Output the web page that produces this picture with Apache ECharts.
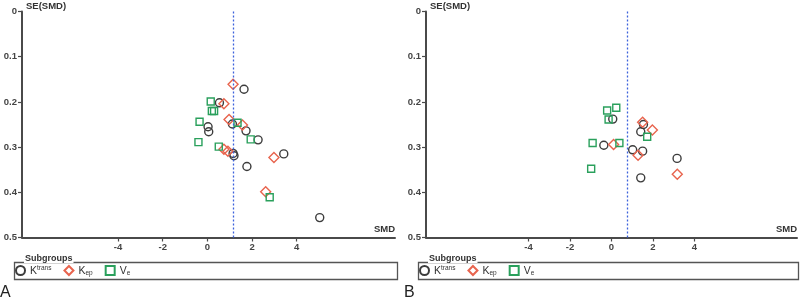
<!DOCTYPE html>
<html><head><meta charset="utf-8">
<script src="https://cdn.jsdelivr.net/npm/echarts@6/dist/echarts.min.js"></script>
<style>html,body{margin:0;padding:0;background:#fff}#c{width:800px;height:302px}</style>
</head><body><div id="c"></div>
<script>
// ---- data (SMD, SE(SMD)) ----
var aKtrans = [[1.64,0.172],[0.54,0.202],[1.12,0.249],[0.03,0.255],[0.06,0.266],[1.73,0.264],[2.27,0.284],[1.15,0.314],[1.19,0.319],[3.42,0.315],[1.77,0.343],[5.03,0.456]];
var aKep    = [[1.15,0.161],[0.74,0.204],[0.97,0.239],[1.57,0.251],[0.74,0.305],[0.92,0.309],[2.98,0.323],[2.61,0.399]];
var aVe     = [[0.15,0.199],[0.20,0.220],[0.30,0.220],[-0.35,0.244],[1.35,0.246],[1.94,0.283],[-0.40,0.289],[0.51,0.299],[2.79,0.411]];
var aPooled = 1.15;

var bKtrans = [[0.06,0.238],[1.54,0.250],[1.41,0.266],[-0.37,0.296],[1.02,0.306],[1.50,0.309],[3.16,0.325],[1.41,0.368]];
var bKep    = [[1.50,0.245],[1.97,0.262],[0.10,0.294],[1.28,0.318],[3.17,0.360]];
var bVe     = [[0.23,0.213],[-0.21,0.219],[-0.14,0.239],[-0.91,0.291],[0.38,0.291],[1.72,0.277],[-0.98,0.348]];
var bPooled = 0.78;

var xTicks = [-4,-2,0,2,4];
var seriesNames = ['Ktrans','Kep','Ve'];
var panelLabels = ['A','B'];

var FONT = "'Liberation Sans', Arial, sans-serif";
var AX = '#4a4a4a';
var colK = '#3c3c3c', colKep = '#e8644e', colVe = '#2aa05c';

function xAxis(idx, min, max){
  return {type:'value', gridIndex:idx, min:min, max:max,
    name:'SMD', nameLocation:'end', nameGap:0,
    nameTextStyle:{fontFamily:FONT, fontSize:9.5, fontWeight:'bold', color:'#333', align:'right', verticalAlign:'bottom', padding:[0,0,3,0]},
    splitLine:{show:false},
    axisLine:{onZero:false, lineStyle:{color:AX, width:2}},
    axisTick:{show:true, length:4, customValues:xTicks, lineStyle:{color:AX, width:1.2}},
    axisLabel:{customValues:xTicks, margin:5, fontFamily:FONT, fontSize:9.5, fontWeight:'bold', color:'#444'}
  };
}
function yAxis(idx){
  return {type:'value', gridIndex:idx, min:0, max:0.5, interval:0.1, inverse:true,
    name:'SE(SMD)', nameLocation:'start', nameGap:0,
    nameTextStyle:{fontFamily:FONT, fontSize:9.5, fontWeight:'bold', color:'#333', align:'left', verticalAlign:'bottom', padding:[0,0,0,4]},
    splitLine:{show:false},
    axisLine:{onZero:false, lineStyle:{color:AX, width:2}},
    axisTick:{show:true, length:4, lineStyle:{color:AX, width:1.2}},
    axisLabel:{margin:5, fontFamily:FONT, fontSize:9.5, fontWeight:'bold', color:'#444',
      formatter:function(v){return String(+v.toFixed(1));}}
  };
}
function sc(name, data, idx, symbol, size, color, pooled){
  var s = {name:name, type:'scatter', xAxisIndex:idx, yAxisIndex:idx, data:data,
    symbol:symbol, symbolSize:size,
    itemStyle:{color:'rgba(255,255,255,0)', borderColor:color, borderWidth:1.4, opacity:1},
    emphasis:{disabled:true}, z:3};
  if (pooled !== undefined){
    s.markLine = {silent:true, symbol:'none', label:{show:false},
      lineStyle:{color:'#3d62dc', type:[2,2], width:1.3},
      data:[{xAxis:pooled}]};
  }
  return s;
}
var rich = {
  k:{fontFamily:FONT, fontSize:10.5, color:'#333', lineHeight:12, verticalAlign:'bottom'},
  sup:{fontFamily:FONT, fontSize:6.5, color:'#333', lineHeight:7, verticalAlign:'top'},
  sub:{fontFamily:FONT, fontSize:6.5, color:'#333', lineHeight:7, verticalAlign:'bottom'}
};
function legendFmt(n){
  if (n==='Ktrans') return '{k|K}{sup|trans}';
  if (n==='Kep') return '{k|K}{sub|ep}';
  return '{k|V}{sub|e}';
}
function legend(left){
  return {left:left, top:264.5, orient:'horizontal', itemGap:12, itemWidth:9, itemHeight:9,
    selectedMode:false, data:seriesNames, formatter:legendFmt,
    textStyle:{rich:rich, padding:[0,0,0,0]}, padding:0, z:6};
}

var chart = echarts.init(document.getElementById('c'), null, {renderer:'canvas'});
chart.setOption({
  animation:false,
  backgroundColor:'#fff',
  grid:[{left:22, top:11.5, width:373, height:226},
        {left:426, top:11.5, width:372, height:226}],
  xAxis:[xAxis(0,-8.3,8.4), xAxis(1,-8.94,8.94)],
  yAxis:[yAxis(0), yAxis(1)],
  legend:[legend(15), legend(419)],
  series:[
    sc('Ktrans', aKtrans, 0, 'circle', 8, colK, aPooled),
    sc('Kep', aKep, 0, 'diamond', 10, colKep),
    sc('Ve', aVe, 0, 'rect', 7, colVe),
    sc('Ktrans', bKtrans, 1, 'circle', 8, colK, bPooled),
    sc('Kep', bKep, 1, 'diamond', 10, colKep),
    sc('Ve', bVe, 1, 'rect', 7, colVe)
  ],
  graphic:[
    {type:'rect', left:12, top:260, shape:{width:383, height:17}, style:{fill:'none', stroke:'#555', lineWidth:1.3}, z:1},
    {type:'rect', left:416, top:260, shape:{width:380, height:17}, style:{fill:'none', stroke:'#555', lineWidth:1.3}, z:1},
    {type:'text', left:24, top:254, style:{text:'Subgroups', font:'bold 9px '+FONT, fill:'#333', backgroundColor:'#fff', padding:[0,1]}, z:5},
    {type:'text', left:428, top:254, style:{text:'Subgroups', font:'bold 9px '+FONT, fill:'#333', backgroundColor:'#fff', padding:[0,1]}, z:5},
    {type:'text', left:0, top:285, style:{text:panelLabels[0], font:'16px '+FONT, fill:'#222'}},
    {type:'text', left:404, top:285, style:{text:panelLabels[1], font:'16px '+FONT, fill:'#222'}}
  ]
});
</script></body></html>
